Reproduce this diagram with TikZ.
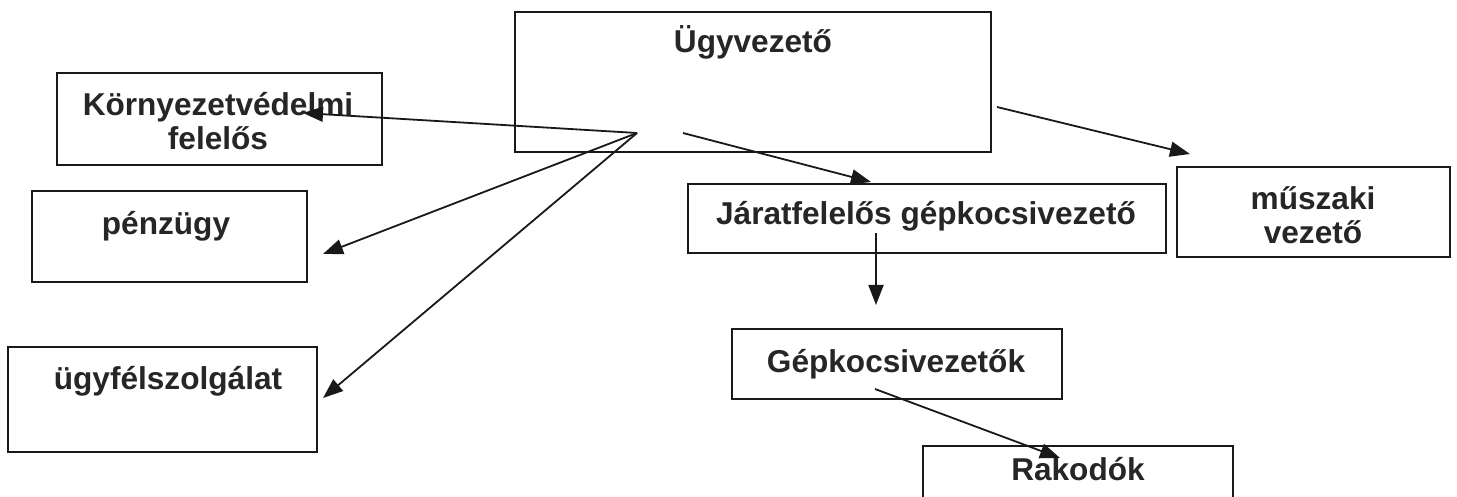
\documentclass[tikz,border=0pt]{standalone}
\usepackage{fontspec}
\setmainfont{Liberation Sans}
\usetikzlibrary{arrows.meta}

\tikzset{
    box/.style={draw=black!90, line width=0.8pt, inner sep=0pt},
    lbl/.style={font=\fontsize{15.8}{16.8}\selectfont\bfseries, text=black!85, inner sep=0pt},
    conn/.style={draw=black!90, line width=0.9pt, -{Triangle[length=10pt,width=7.5pt]}}
}

\begin{document}
\begin{tikzpicture}[x=0.5pt,y=-0.5pt]
        \clip (0,0) rectangle (1457,497);
        \fill[white] (0,0) rectangle (1457,497);

        % boxes
        \node[box, minimum width=238pt, minimum height=70pt] (ugy) at (753,82) {};
        \node[box, minimum width=162.5pt, minimum height=46pt] (korny) at (219.5,119) {};
        \node[box, minimum width=137.5pt, minimum height=45.5pt] (penz) at (169.5,236.5) {};
        \node[box, minimum width=154.5pt, minimum height=52.5pt] (ugyf) at (162.5,399.5) {};
        \node[box, minimum width=239pt, minimum height=34.5pt] (jarat) at (927,218.5) {};
        \node[box, minimum width=136.5pt, minimum height=45pt] (musz) at (1313.5,212) {};
        \node[box, minimum width=165pt, minimum height=35pt] (gepk) at (897,364) {};
        \node[box, minimum width=155pt, minimum height=42pt] (rakod) at (1078,488) {};

        % texts
        \node[lbl, anchor=base] (ugyt) at (753,53) {Ügyvezető};
        \node[lbl, align=center] (kornyt) at (218,121) {Környezetvédelmi\\felelős};
        \node[lbl, anchor=base] (penzt) at (166,235) {pénzügy};
        \node[lbl, anchor=base] (ugyft) at (168,389) {ügyfélszolgálat};
        \node[lbl, anchor=base] (jaratt) at (926,225) {Járatfelelős gépkocsivezető};
        \node[lbl, align=center] (muszt) at (1313,215) {műszaki\\vezető};
        \node[lbl, anchor=base] (gepkt) at (896,372) {Gépkocsivezetők};
        \node[lbl, anchor=base] (rakodt) at (1078,480) {Rakodók};

        % arrow ends
        \coordinate (hub) at (637,133);
        \coordinate (ugym) at (683,133);
        \coordinate (ugyr) at (997,107);
        \coordinate (jarats) at (876,233);
        \coordinate (gepks) at (875,389);
        \coordinate (kornyt-t) at (303,113);
        \coordinate (penz-t) at (323,254);
        \coordinate (ugyf-t) at (323,398);
        \coordinate (jarat-t) at (871,182);
        \coordinate (musz-t) at (1190,154);
        \coordinate (gepk-t) at (876,305);
        \coordinate (rakod-t) at (1060,458);

        \draw[conn] (hub)--(kornyt-t);
        \draw[conn] (hub)--(penz-t);
        \draw[conn] (hub)--(ugyf-t);
        \draw[conn] (ugym)--(jarat-t);
        \draw[conn] (ugyr)--(musz-t);
        \draw[conn] (jarats)--(gepk-t);
        \draw[conn] (gepks)--(rakod-t);
    \end{tikzpicture}
\end{document}
